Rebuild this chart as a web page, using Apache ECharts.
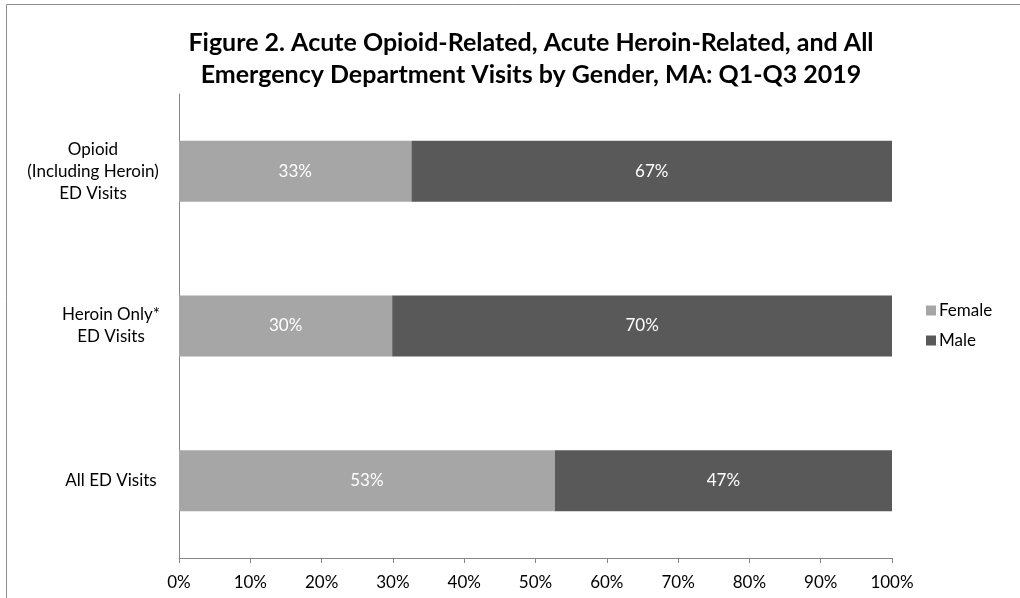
<!DOCTYPE html>
<html><head><meta charset="utf-8">
<script src="https://cdn.jsdelivr.net/npm/echarts@6/dist/echarts.min.js"></script>
<style>html,body{margin:0;padding:0;background:#fff}#c{width:1020px;height:598px}</style>
</head><body><div id="c"></div>
<script>
const categories = ['Opioid\n(Including Heroin)\nED Visits', 'Heroin Only*\nED Visits', 'All ED Visits'];
const female = [32.6, 29.9, 52.7];
const male = [67.4, 70.1, 47.3];
const seriesNames = ['Female', 'Male'];
const xTicks = [0, 10, 20, 30, 40, 50, 60, 70, 80, 90, 100];
const titleText = 'Figure 2. Acute Opioid-Related, Acute Heroin-Related, and All\nEmergency Department Visits by Gender, MA: Q1-Q3 2019';

const FONT = 'Lato, "Open Sans", sans-serif';
const chart = echarts.init(document.getElementById('c'), null, {renderer: 'canvas'});
const lbl = {show: true, position: 'inside', color: '#ffffff', fontSize: 17, fontFamily: FONT,
  formatter: p => Math.round(p.value) + '%'};
chart.setOption({
  animation: false,
  graphic: [{type: 'rect', shape: {x: 6.5, y: 4.5, width: 1100, height: 700},
    style: {fill: 'none', stroke: '#8c8c8c', lineWidth: 1}}],
  title: {text: titleText, left: 526, textAlign: 'center', top: 22,
    textStyle: {fontFamily: FONT, fontWeight: 'bold', fontSize: 25, color: '#000', lineHeight: 32}},
  legend: {orient: 'vertical', left: 921, top: 297, itemWidth: 10, itemHeight: 10, itemGap: 13,
    icon: 'rect', data: seriesNames,
    textStyle: {fontFamily: FONT, fontSize: 17, color: '#000', padding: [0, 0, 0, -2]}},
  grid: {left: 179, right: 128, top: 94, bottom: 40, containLabel: false},
  xAxis: {type: 'value', min: 0, max: 100, interval: 10,
    axisLine: {show: true, lineStyle: {color: '#868686'}},
    axisTick: {show: true, length: 5, lineStyle: {color: '#868686'}},
    splitLine: {show: false},
    axisLabel: {fontFamily: FONT, fontSize: 17, color: '#000', margin: 16,
      formatter: v => xTicks.includes(v) ? v + '%' : ''}},
  yAxis: {type: 'category', data: categories, inverse: true,
    axisLine: {show: true, lineStyle: {color: '#868686'}},
    axisTick: {show: false},
    axisLabel: {fontFamily: FONT, fontSize: 17, color: '#000', margin: 86, lineHeight: 22, align: 'center',
      formatter: (v, i) => i === 0 ? '{a|' + v.split('\n').join('}\n{a|') + '}'
                                    : '{b|' + v.split('\n').join('}\n{b|') + '}',
      rich: {
        a: {fontFamily: FONT, fontSize: 17, color: '#000', lineHeight: 22},
        b: {fontFamily: FONT, fontSize: 17, color: '#000', lineHeight: 22, padding: [0, 0, 0, 36]}
      }}},
  series: [
    {name: seriesNames[0], type: 'bar', stack: 'a', data: female, barWidth: 61,
      itemStyle: {color: '#a6a6a6'}, label: lbl},
    {name: seriesNames[1], type: 'bar', stack: 'a', data: male, barWidth: 61,
      itemStyle: {color: '#595959'}, label: lbl}
  ]
});
</script></body></html>
